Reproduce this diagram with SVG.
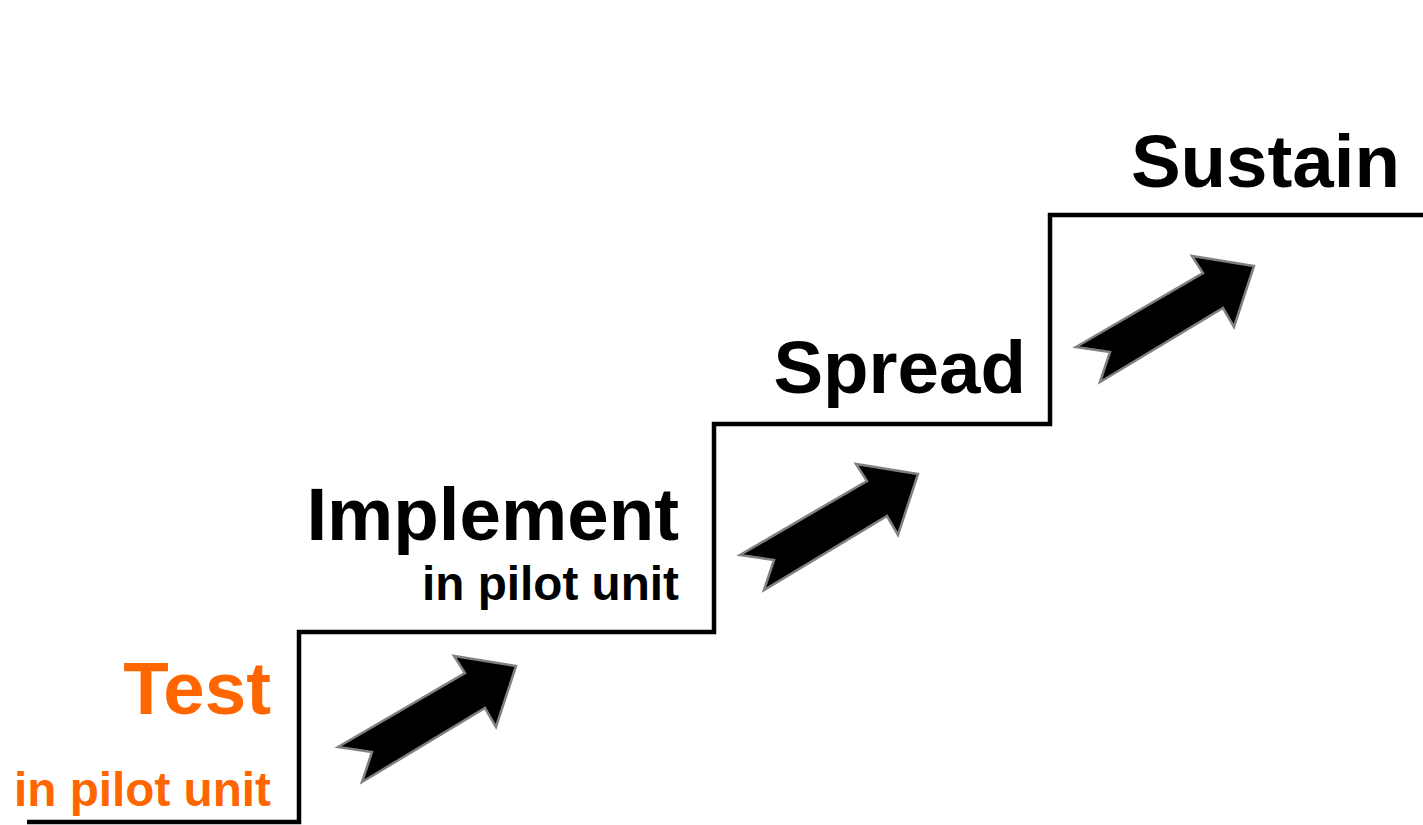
<svg xmlns="http://www.w3.org/2000/svg" width="1423" height="825" viewBox="0 0 1423 825">
<defs>
<style>
.big{font-family:"Liberation Sans",Arial,sans-serif;font-weight:bold;font-size:74.5px;text-anchor:end}
.small{font-family:"Liberation Sans",Arial,sans-serif;font-weight:bold;font-size:47.7px;text-anchor:end}
.org{fill:#FF6600}
.blk{fill:#000}
.arrow{fill:#000;stroke:#808080;stroke-width:2.5;stroke-linejoin:miter}
</style>
<polygon id="arr" class="arrow" points="338,747 465,673 454,656 516,666 496,727 485,708 362,782 372,752"/>
</defs>
<rect width="1423" height="825" fill="#fff"/>
<g id="connectors">
<path d="M27,822 H299 V632 H714 V424 H1050 V215 H1423" fill="none" stroke="#000" stroke-width="4.5" stroke-linejoin="miter"/>
<use href="#arr"/>
<use href="#arr" transform="translate(402,-192)"/>
<use href="#arr" transform="translate(738,-400)"/>
</g>
<g id="test">
<text class="big org" x="271" y="714">Test</text>
<text class="small org" x="271" y="806">in pilot unit</text>
</g>
<g id="implement">
<text class="big blk" x="679" y="540">Implement</text>
<text class="small blk" x="679" y="600">in pilot unit</text>
</g>
<g id="spread">
<text class="big blk" x="1026" y="393">Spread</text>
</g>
<g id="sustain">
<text class="big blk" x="1400" y="187">Sustain</text>
</g>
</svg>
